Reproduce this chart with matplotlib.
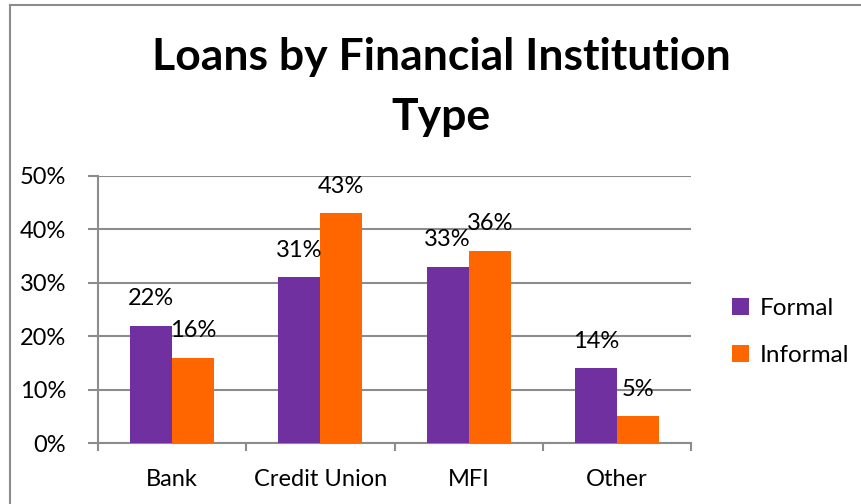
import matplotlib
matplotlib.use("Agg")
import matplotlib.pyplot as plt
from matplotlib.lines import Line2D
import numpy as np

categories = ["Bank", "Credit Union", "MFI", "Other"]
formal = [22, 31, 33, 14]
informal = [16, 43, 36, 5]
series_names = ["Formal", "Informal"]
y_ticks = [0, 10, 20, 30, 40, 50]
y_tick_labels = ["0%", "10%", "20%", "30%", "40%", "50%"]

plt.rcParams["font.family"] = ["Lato", "DejaVu Sans"]

W, H = 861, 504
fig = plt.figure(figsize=(W / 100, H / 100), dpi=100)
fig.patch.set_facecolor("white")

# chart frame (left and top edges)
grey = "#8c8c8c"
fig.add_artist(Line2D([10 / W, 10 / W], [0, 1 - 5 / H], color=grey, lw=1.5, transform=fig.transFigure))
fig.add_artist(Line2D([10 / W, 1], [1 - 5 / H, 1 - 5 / H], color=grey, lw=1.5, transform=fig.transFigure))

ax_l, ax_r, ax_t, ax_b = 98, 691, 176, 443
ax = fig.add_axes([ax_l / W, 1 - ax_b / H, (ax_r - ax_l) / W, (ax_b - ax_t) / H])

x = np.arange(len(categories))
bw = 0.284
purple = "#7030A0"
orange = "#FF6600"
b1 = ax.bar(x - bw / 2, formal, bw, color=purple, label=series_names[0], zorder=3)
b2 = ax.bar(x + bw / 2, informal, bw, color=orange, label=series_names[1], zorder=3)

for bars, vals in ((b1, formal), (b2, informal)):
    for rect, v in zip(bars, vals):
        ax.annotate(f"{v}%", (rect.get_x() + rect.get_width() / 2, v),
                    xytext=(0, 12), textcoords="offset points",
                    ha="center", va="bottom", fontsize=17, color="black", zorder=4)

ax.set_xlim(-0.5, len(categories) - 0.5)
ax.set_ylim(0, 50)
ax.set_yticks(y_ticks)
ax.set_yticklabels(y_tick_labels, fontsize=17)
ax.yaxis.grid(True, color=grey, lw=1.5, zorder=0)
ax.set_xticks(x)
ax.set_xticklabels(categories, fontsize=17)
ax.set_xticks(np.arange(len(categories) + 1) - 0.5, minor=True)
ax.tick_params(axis="x", which="major", length=0, pad=19)
ax.tick_params(axis="x", which="minor", length=6, width=1.5, color=grey, direction="out")
ax.tick_params(axis="y", length=7, width=1.5, color=grey, direction="out", pad=16)
for s in ("top", "right"):
    ax.spines[s].set_visible(False)
for s in ("left", "bottom"):
    ax.spines[s].set_color(grey)
    ax.spines[s].set_linewidth(1.5)

fig.text(441 / W, 1 - 57 / H, "Loans by Financial Institution", ha="center", va="center",
         fontsize=32, fontweight="bold")
fig.text(441 / W, 1 - 117 / H, "Type", ha="center", va="center",
         fontsize=32, fontweight="bold")

fig.legend(handles=[b1, b2], labels=series_names, loc="upper left",
           bbox_to_anchor=(710 / W, 1 - 276 / H), frameon=False, fontsize=17.5,
           handlelength=0.7, handleheight=0.7, handletextpad=0.45, labelspacing=1.08)

fig.savefig("out.png", dpi=100, facecolor="white")
